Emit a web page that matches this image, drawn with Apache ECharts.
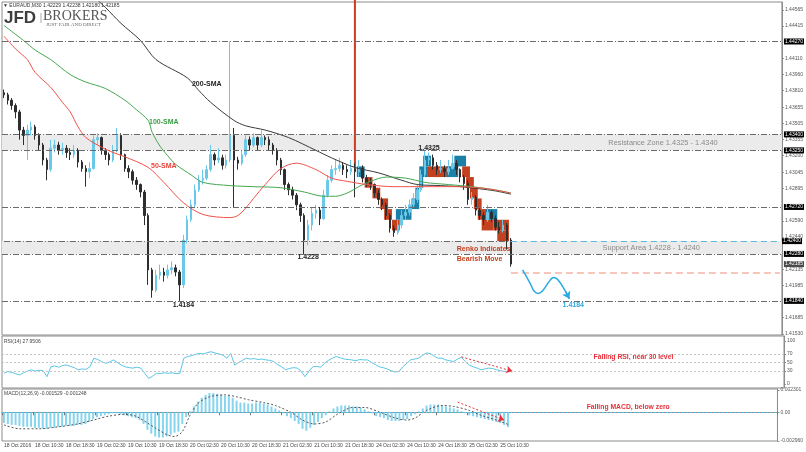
<!DOCTYPE html>
<html><head><meta charset="utf-8">
<script src="https://cdn.jsdelivr.net/npm/echarts@6/dist/echarts.min.js"></script>
<style>html,body{margin:0;padding:0;background:#fff}#c{width:806px;height:452px}</style>
</head><body><div id="c"></div>
<script>
const FF = 'Liberation Sans, Arial, sans-serif';
const timeLabels = ['18 Oct 2016','18 Oct 10:30','18 Oct 18:30','19 Oct 02:30','19 Oct 10:30','19 Oct 18:30','20 Oct 02:30','20 Oct 10:30','20 Oct 18:30','21 Oct 02:30','21 Oct 10:30','21 Oct 18:30','24 Oct 02:30','24 Oct 10:30','24 Oct 18:30','25 Oct 02:30','25 Oct 10:30'];
const firstOpen = 1.4379;
const closes = [1.4377,1.4372,1.4367,1.4361,1.4344,1.4339,1.4344,1.4347,1.4339,1.4330,
 1.4316,1.4307,1.4327,1.4330,1.4325,1.4327,1.4323,1.4321,1.4325,1.4314,
 1.4308,1.4305,1.4308,1.4335,1.4337,1.4325,1.4321,1.4316,1.4325,1.4339,
 1.4321,1.4308,1.4305,1.4297,1.4293,1.4286,1.4264,1.4213,1.4194,1.4208,
 1.4211,1.4208,1.4213,1.4215,1.4211,1.4199,1.4241,1.4260,1.4274,1.4288,
 1.4297,1.4299,1.4307,1.4321,1.4316,1.4318,1.4311,1.4316,1.4339,1.4316,
 1.4313,1.4321,1.4335,1.4330,1.4337,1.4330,1.4337,1.4335,1.4330,1.4325,
 1.4316,1.4307,1.4293,1.4288,1.4283,1.4274,1.4264,1.4241,1.4255,1.4266,
 1.4269,1.4261,1.4283,1.4297,1.4307,1.4308,1.4311,1.4307,1.4305,1.4308,
 1.4305,1.4308,1.4299,1.4295,1.4293,1.4285,1.4279,1.4274,1.4264,1.4252,
 1.4248,1.4255,1.4264,1.4267,1.4274,1.4279,1.4288,1.4302,1.4316,1.4318,
 1.4311,1.4307,1.4308,1.4305,1.4308,1.4313,1.4307,1.4300,1.4294,1.4279,
 1.4281,1.4269,1.4264,1.4260,1.4267,1.4261,1.4253,1.4250,1.4255,1.4241,
 1.42185];
const highs = [1.4382,1.4379,1.4374,1.4369,1.4363,1.4347,1.4349,1.4352,1.4349,1.4341,
 1.4332,1.4318,1.4335,1.4335,1.4333,1.4332,1.4330,1.4327,1.4330,1.4327,
 1.4316,1.4311,1.4314,1.4339,1.4341,1.4338,1.4327,1.4323,1.4330,1.4346,
 1.4341,1.4322,1.4311,1.4307,1.4300,1.4294,1.4288,1.4266,1.4215,1.4213,
 1.4218,1.4215,1.4218,1.4221,1.4218,1.4213,1.4246,1.4264,1.4279,1.4293,
 1.4302,1.4307,1.4311,1.4330,1.4323,1.4327,1.4321,1.4321,1.4427,1.4346,
 1.4319,1.4325,1.4339,1.4338,1.4341,1.4338,1.4344,1.4339,1.4338,1.4332,
 1.4327,1.4318,1.4308,1.4295,1.4291,1.4285,1.4276,1.4266,1.4260,1.4271,
 1.4274,1.4272,1.4288,1.4302,1.4311,1.4316,1.4318,1.4314,1.4311,1.4316,
 1.4313,1.4316,1.4311,1.4302,1.4299,1.4294,1.4288,1.4281,1.4276,1.4266,
 1.4255,1.4260,1.4269,1.4274,1.4279,1.4285,1.4293,1.4307,1.4325,1.4323,
 1.4321,1.4314,1.4316,1.4311,1.4316,1.4321,1.4316,1.4308,1.4302,1.4297,
 1.4286,1.4283,1.4272,1.4267,1.4274,1.4269,1.4264,1.4258,1.4260,1.4257,
 1.4243];
const lows = [1.4374,1.4368,1.4363,1.4355,1.4335,1.4330,1.4316,1.4339,1.4335,1.4325,
 1.4311,1.4297,1.4305,1.4323,1.4321,1.4321,1.4318,1.4316,1.4318,1.4309,
 1.4305,1.4291,1.4299,1.4307,1.4330,1.4321,1.4316,1.4311,1.4314,1.4323,
 1.4316,1.4305,1.4299,1.4293,1.4288,1.4281,1.4255,1.4199,1.4187,1.4192,
 1.4204,1.4202,1.4205,1.4209,1.4207,1.4184,1.4196,1.4238,1.4258,1.4272,
 1.4286,1.4293,1.4297,1.4305,1.4311,1.4313,1.4307,1.4308,1.4314,1.4272,
 1.4307,1.4311,1.4319,1.4325,1.4328,1.4325,1.4328,1.4330,1.4325,1.4321,
 1.4311,1.4302,1.4288,1.4283,1.4279,1.4269,1.4258,1.4228,1.4236,1.4250,
 1.4261,1.4255,1.4260,1.4281,1.4295,1.4302,1.4305,1.4302,1.4299,1.4302,
 1.4281,1.4300,1.4295,1.4291,1.4288,1.4281,1.4274,1.4269,1.4260,1.4248,
 1.4244,1.4246,1.4252,1.4260,1.4264,1.4271,1.4276,1.4286,1.4300,1.4311,
 1.4307,1.4302,1.4304,1.4300,1.4302,1.4307,1.4302,1.4295,1.4288,1.4274,
 1.4274,1.4264,1.4260,1.4255,1.4258,1.4258,1.4250,1.4247,1.4248,1.4232,
 1.4216];
const sma200 = [[23,1.4469],[26,1.4459],[30,1.4444],[35,1.4428],[39,1.4410],[47,1.4393],[50,1.4381],[53,1.4370],[59,1.4353],[62,1.4348],[67,1.4344],[73,1.4337],[80,1.4325],[84,1.4318],[90,1.4309],[96,1.4304],[102,1.4297],[106,1.4293],[112,1.4292],[117,1.4291],[122,1.4289],[126,1.4287],[130,1.4284]];
const sma100 = [[0,1.4442],[5,1.4428],[8,1.4419],[12,1.4410],[17,1.4396],[21,1.4389],[26,1.4383],[31,1.4372],[34,1.4363],[37,1.4353],[38,1.4342],[40,1.4329],[42,1.4320],[44,1.4312],[48,1.4302],[51,1.4295],[58,1.4292],[64,1.4291],[71,1.4290],[77,1.4286],[82,1.4282],[85,1.4282],[88,1.4285],[91,1.4291],[94,1.4296],[98,1.4300],[103,1.4299],[108,1.4295],[114,1.4293],[120,1.4291],[126,1.4288],[130,1.4285]];
const sma50 = [[0,1.4432],[3,1.4420],[6,1.4410],[8,1.4398],[12,1.4384],[15,1.4370],[17,1.4361],[19,1.4347],[21,1.4337],[25,1.4328],[28,1.4323],[31,1.4319],[37,1.4309],[41,1.4295],[46,1.4276],[51,1.4265],[58,1.4262],[60,1.4264],[62,1.4271],[64,1.4280],[67,1.4293],[71,1.4308],[75,1.4313],[80,1.4307],[84,1.4299],[88,1.4296],[93,1.4293],[100,1.4291],[108,1.4291],[117,1.4291],[124,1.4289],[130,1.4285]];
const renkoBoxes = [[91,92,1.4300,1.4310,1],[93,94,1.4290,1.4300,-1],[95,96,1.4280,1.4290,-1],[97,98,1.4270,1.4280,-1],[98,99,1.4260,1.4270,-1],[100,101,1.4250,1.4260,-1],[101,104,1.4260,1.4270,1],[105,106,1.4270,1.4280,1],[106,106,1.4280,1.4290,1],[107,107,1.4290,1.4300,1],[107,108,1.4300,1.4310,1],[108,109,1.4310,1.4320,1],[109,114,1.4300,1.4310,-1],[114,116,1.4300,1.4310,1],[116,118,1.4310,1.4320,1],[118,119,1.4300,1.4310,-1],[119,120,1.4290,1.4300,-1],[120,121,1.4280,1.4290,-1],[121,122,1.4270,1.4280,-1],[122,124,1.4260,1.4270,-1],[123,125,1.4250,1.4260,-1],[124,126,1.4260,1.4270,1],[126,129,1.4250,1.4260,-1],[127,129,1.4240,1.4250,-1]];
const renkoSpike = [[90,1.4309,1.4470]];
const levelLines = [1.4427,1.4340,1.4325,1.4272,1.4228,1.4184];
const supportLine = 1.4240;
const targetLine = 1.4210;
const lastPrice = 1.42185;
const zones = [[1.4325,1.4340],[1.4228,1.4240]];
const forecast = [[133,1.4213],[135,1.4200],[136,1.4193],[137,1.4191],[138,1.4193],[140,1.4203],[141,1.4206],[142,1.4204],[144,1.4193],[145,1.4186]];
const rsi = [25,29,27,24,21,26,30,33,30,32,31,17,40,42,39,43,44,41,38,33,
 35,34,40,60,57,52,48,51,56,50,44,40,38,37,39,37,25,13,18,25,
 24,26,25,26,24,25,60,64,66,69,71,70,73,75,72,70,67,60,71,44,
 50,55,60,58,59,57,58,56,55,52,45,40,33,36,38,37,30,17,30,40,
 41,39,48,55,60,64,61,58,57,56,54,57,56,56,50,45,40,38,35,31,
 28,29,40,48,56,58,60,66,72,71,65,60,60,56,54,52,58,62,52,44,
 40,37,33,35,37,36,33,31,29,30,27.95];
const rsiLevels = [70,50,30];
const macdHist = [-0.0011,-0.0012,-0.0013,-0.0013,-0.0014,-0.0015,-0.0015,-0.0015,-0.0016,-0.0016,
 -0.0017,-0.0017,-0.0016,-0.0016,-0.0015,-0.0015,-0.0014,-0.0014,-0.0014,-0.0013,
 -0.0013,-0.0012,-0.0010,-0.0007,-0.0005,-0.0004,-0.0003,-0.0002,-0.0001,-0.0001,
 -0.0002,-0.0003,-0.0004,-0.0005,-0.0006,-0.0008,-0.0012,-0.0018,-0.0022,-0.0025,
 -0.0026,-0.0026,-0.0025,-0.0023,-0.0021,-0.0020,-0.0012,-0.0005,0.0001,0.0006,
 0.0011,0.0015,0.0018,0.0020,0.0020,0.0019,0.0018,0.0017,0.0017,0.0015,
 0.0012,0.0010,0.0010,0.0009,0.0009,0.0010,0.0010,0.0009,0.0008,0.0006,
 0.0004,0.0002,-0.0001,-0.0004,-0.0006,-0.0009,-0.0012,-0.0017,-0.0019,-0.0016,
 -0.0013,-0.0010,-0.0006,-0.0003,0.0001,0.0004,0.0006,0.0007,0.0007,0.0007,
 0.0006,0.0006,0.0005,0.0003,0.0001,-0.0001,-0.0004,-0.0005,-0.0006,-0.0008,
 -0.0009,-0.0009,-0.0009,-0.0008,-0.0007,-0.0004,-0.0002,0.0001,0.0004,0.0007,
 0.0008,0.0008,0.0008,0.0007,0.0006,0.0005,0.0004,0.0003,0.0001,-0.0001,
 -0.0003,-0.0004,-0.0005,-0.0006,-0.0007,-0.0008,-0.0009,-0.0010,-0.0011,-0.0013,
 -0.001529];
const macdSignal = [[0,-0.0013],[4,-0.0017],[9,-0.0017],[14,-0.0015],[19,-0.0012],[24,-0.0007],[27,-0.0004],[31,-0.0002],[34,-0.0004],[37,-0.0011],[39,-0.0016],[42,-0.0023],[44,-0.0025],[46,-0.0020],[48,-0.0003],[50,0.0009],[53,0.0016],[57,0.0018],[60,0.0016],[63,0.0013],[67,0.0010],[70,0.0007],[74,0.0000],[77,-0.0008],[80,-0.0012],[83,-0.0010],[86,-0.0002],[90,0.0005],[93,0.0005],[97,0.0000],[101,-0.0006],[104,-0.0008],[106,-0.0006],[109,0.0002],[113,0.0007],[116,0.0006],[120,0.0002],[123,-0.0003],[127,-0.0008],[130,-0.001248]];
const priceTicks = [1.44565,1.44415,1.44110,1.43960,1.43810,1.43655,1.43505,1.43355,1.43200,1.43045,1.42895,1.42590,1.42440,1.42135,1.41985,1.41685,1.41530];
const rsiTicks = [100,70,50,30,0];
const macdTicks = [0.002301,0,-0.00296];

const N = 200;
const cats = Array.from({length:N},(_,i)=>String(i));
const ohlc = closes.map((c,i)=>[i===0?firstOpen:closes[i-1], c, lows[i], highs[i]]);
const tickInt = (i)=> i%8===0 && i/8 < timeLabels.length;

function xAx(gi, show){
  return {type:'category', gridIndex:gi, data:cats, boundaryGap:true,
    axisLine:{show:show, lineStyle:{color:'#8c8c8c'}},
    axisTick:{show:show, interval:tickInt, length:3, lineStyle:{color:'#777'}},
    axisLabel:{show:show, interval:tickInt, formatter:(v)=>timeLabels[Number(v)/8]||'', align:'left', fontSize:5, color:'#444', margin:2, fontFamily:FF},
    splitLine:{show:false}};
}
function yAx(gi, min, max, ticks, fmt){
  return {type:'value', gridIndex:gi, position:'right', min:min, max:max,
    axisLine:{show:true, lineStyle:{color:'#8c8c8c'}},
    axisTick:{show:true, length:2, customValues:ticks, lineStyle:{color:'#8c8c8c'}},
    axisLabel:{show:true, customValues:ticks, formatter:fmt, fontSize:5, color:'#555', margin:3, fontFamily:FF},
    splitLine:{show:false}};
}
function boxLabel(bg, v){
  return {show:true, position:'end', distance:2, formatter:v.toFixed(5), color:'#fff', backgroundColor:bg, fontSize:5, padding:[1,1,0,1], fontFamily:FF};
}
function note(j, v, text, color, size, bold, pos){
  return {coord:[j, v], label:{show:true, formatter:text, color:color, fontSize:size, fontWeight:bold?'bold':'normal', position:pos||'inside', distance:0, fontFamily:FF}};
}
const dashDot = {color:'#6b6b6b', type:[6,2,1,2], width:1};
const mlData = levelLines.map(v=>({yAxis:v, lineStyle:dashDot, label:boxLabel('#000', v)}));
mlData.push([{coord:[0,supportLine], lineStyle:dashDot, label:{show:false}},{coord:[130,supportLine]}]);
mlData.push([{coord:[130,supportLine], lineStyle:{color:'#5ab9dc', type:[6,4], width:1}, label:boxLabel('#000', supportLine)},{coord:[199,supportLine]}]);
mlData.push([{coord:[130,targetLine], lineStyle:{color:'#f5b4a4', type:[7,4], width:1.5}, label:{show:false}},{coord:[199,targetLine]}]);
mlData.push({yAxis:lastPrice, lineStyle:{color:'rgba(0,0,0,0)', width:0}, label:boxLabel('#4a4a4a', lastPrice)});

function renkoRender(params, api){
  const s=api.value(0), e=api.value(1), lo=api.value(2), hi=api.value(3), d=api.value(4);
  const w=api.size([1,0])[0];
  const p1=api.coord([s,hi]), p2=api.coord([e,lo]);
  return {type:'rect', shape:{x:p1[0]-w/2, y:p1[1], width:p2[0]-p1[0]+w, height:p2[1]-p1[1]},
    style:{fill: d>0?'#1c7fa6':'#c4411f'}};
}
function spikeRender(params, api){
  const p1=api.coord([api.value(0), api.value(2)]), p2=api.coord([api.value(0), api.value(1)]);
  return {type:'rect', shape:{x:p1[0]-1, y:p1[1], width:2, height:p2[1]-p1[1]}, style:{fill:'#d23a1e'}};
}

const chart = echarts.init(document.getElementById('c'), null, {renderer:'canvas'});
chart.setOption({
  animation:false,
  backgroundColor:'#fff',
  grid:[
    {left:2, right:22, top:2, height:333, show:true, borderColor:'#8c8c8c', borderWidth:1},
    {left:2, right:22, top:336, height:52, show:true, borderColor:'#8c8c8c', borderWidth:1},
    {left:2, right:22, top:389, height:52, show:true, borderColor:'#8c8c8c', borderWidth:1}
  ],
  xAxis:[xAx(0,false), xAx(1,false), xAx(2,true)],
  yAxis:[
    yAx(0, 1.415205, 1.446399, priceTicks, v=>v.toFixed(5)),
    yAx(1, -9.3, 111.6, rsiTicks, v=>String(v)),
    yAx(2, -0.00296, 0.002404, macdTicks, v=> v===0 ? '0.00' : v.toFixed(6))
  ],
  graphic:[
    {type:'text', x:3, y:5.5, style:{text:'▼ EURAUD,M30 1.42229 1.42238 1.42180 1.42185', fontSize:5, fontFamily:FF, fill:'#333', verticalAlign:'middle'}},
    {type:'text', x:4, y:18.5, style:{text:'JFD', fontSize:17, fontWeight:'bold', fontFamily:FF, fill:'#3d3d3d', verticalAlign:'middle'}},
    {type:'line', shape:{x1:41, y1:13, x2:41, y2:23}, style:{stroke:'#aaa', lineWidth:1}},
    {type:'text', x:43, y:16.5, style:{text:'BROKERS', fontSize:14, fontFamily:'Liberation Serif, serif', fill:'#555', verticalAlign:'middle'}},
    {type:'text', x:46, y:24.5, style:{text:'JUST FAIR AND DIRECT', fontSize:5, fontFamily:'Liberation Serif, serif', fill:'#666', verticalAlign:'middle'}},
    {type:'text', x:4, y:342, style:{text:'RSI(14) 27.9506', fontSize:5, fontFamily:FF, fill:'#444', verticalAlign:'middle'}},
    {type:'text', x:4, y:394, style:{text:'MACD(12,26,9) -0.001529 -0.001248', fontSize:5, fontFamily:FF, fill:'#444', verticalAlign:'middle'}}
  ],
  series:[
    {name:'levels', type:'line', xAxisIndex:0, yAxisIndex:0, data:[], z:1, silent:true,
      markArea:{silent:true, itemStyle:{color:'#ebebeb'}, data:zones.map(z=>[{yAxis:z[0]},{yAxis:z[1]}])},
      markLine:{silent:true, precision:6, symbol:['none','none'], data:mlData},
      markPoint:{silent:true, symbol:'rect', symbolSize:1, itemStyle:{color:'rgba(0,0,0,0)'}, data:[
        note(52,1.43872,'200-SMA','#222',7,true),
        note(41,1.43516,'100-SMA','#3a9e44',7,true),
        note(41,1.43104,'50-SMA','#e8443c',7,true),
        note(46,1.41801,'1.4184','#222',7,true),
        note(78,1.42251,'1.4228','#222',7,true),
        note(109,1.43272,'1.4325','#222',7,true),
        note(169,1.43319,'Resistance Zone 1.4325 - 1.4340','#8a8a8a',7.4,false),
        note(166,1.42340,'Support Area 1.4228 - 1.4240','#8a8a8a',7.4,false),
        note(116,1.42323,'Renko Indicates','#c4411f',7,true,'right'),
        note(116,1.42235,'Bearish Move','#c4411f',7,true,'right')
      ]}
    },
    {name:'renko', type:'custom', xAxisIndex:0, yAxisIndex:0, z:2, renderItem:renkoRender, encode:{x:[0,1], y:[2,3]}, data:renkoBoxes},
    {name:'renkoSpike', type:'custom', xAxisIndex:0, yAxisIndex:0, z:2, renderItem:spikeRender, encode:{x:0, y:[1,2]}, data:renkoSpike},
    {name:'price', type:'candlestick', xAxisIndex:0, yAxisIndex:0, z:3, barWidth:2, data:ohlc,
      itemStyle:{color:'#6cc8e8', color0:'#2e2e2e', borderColor:'#6cc8e8', borderColor0:'#2e2e2e', borderWidth:1}},
    {name:'SMA200', type:'line', xAxisIndex:0, yAxisIndex:0, z:4, data:sma200, symbol:'none', smooth:0.3, lineStyle:{color:'#3a3a3a', width:1}},
    {name:'SMA100', type:'line', xAxisIndex:0, yAxisIndex:0, z:4, data:sma100, symbol:'none', smooth:0.3, lineStyle:{color:'#45a84f', width:1}},
    {name:'SMA50', type:'line', xAxisIndex:0, yAxisIndex:0, z:4, data:sma50, symbol:'none', smooth:0.3, lineStyle:{color:'#f0524a', width:1}},
    {name:'forecast', type:'line', xAxisIndex:0, yAxisIndex:0, z:5, data:forecast, symbol:'none', smooth:true, lineStyle:{color:'#29abe2', width:1.5},
      markLine:{silent:true, precision:6, symbol:['none','arrow'], symbolSize:7, lineStyle:{color:'#29abe2', width:1.5, type:'solid'}, label:{show:false},
        data:[[{coord:[144,1.4193]},{coord:[145,1.4186]}]]},
      markPoint:{silent:true, symbol:'rect', symbolSize:1, itemStyle:{color:'rgba(0,0,0,0)'}, data:[note(146,1.41801,'1.4184','#29a8df',7,true)]}
    },
    {name:'RSI', type:'line', xAxisIndex:1, yAxisIndex:1, data:rsi, symbol:'none', lineStyle:{color:'#5bc5e6', width:1},
      markLine:{silent:true, symbol:['none','none'], label:{show:false}, lineStyle:{color:'#c4c4c4', type:[2,2], width:1}, data:rsiLevels.map(v=>({yAxis:v}))}},
    {name:'rsiNote', type:'line', xAxisIndex:1, yAxisIndex:1, data:[],
      markLine:{silent:true, symbol:['none','arrow'], symbolSize:6, label:{show:false}, lineStyle:{color:'#e8303a', type:[2,2], width:1},
        data:[[{coord:[117,63]},{coord:[130,30]}]]},
      markPoint:{silent:true, symbol:'rect', symbolSize:1, itemStyle:{color:'rgba(0,0,0,0)'}, data:[note(161,62.8,'Falling RSI, near 30 level','#e8303a',6.8,true)]}
    },
    {name:'MACD', type:'bar', xAxisIndex:2, yAxisIndex:2, data:macdHist, barWidth:2, itemStyle:{color:'#86d4ee'},
      markLine:{silent:true, precision:6, symbol:['none','none'], label:{show:false}, lineStyle:{color:'#4cc0e6', type:[2,2], width:1}, data:[{yAxis:0}]}},
    {name:'Signal', type:'line', xAxisIndex:2, yAxisIndex:2, data:macdSignal, symbol:'none', smooth:0.3, lineStyle:{color:'#555', type:[2,2], width:1},
      markLine:{silent:true, precision:6, symbol:['none','arrow'], symbolSize:6, label:{show:false}, lineStyle:{color:'#e8303a', type:[2,2], width:1},
        data:[[{coord:[117,0.00105]},{coord:[129,-0.0008]}]]},
      markPoint:{silent:true, symbol:'rect', symbolSize:1, itemStyle:{color:'rgba(0,0,0,0)'}, data:[note(161,0.00055,'Falling MACD, below zero','#e8303a',6.8,true)]}
    }
  ]
});
</script>
</body></html>
